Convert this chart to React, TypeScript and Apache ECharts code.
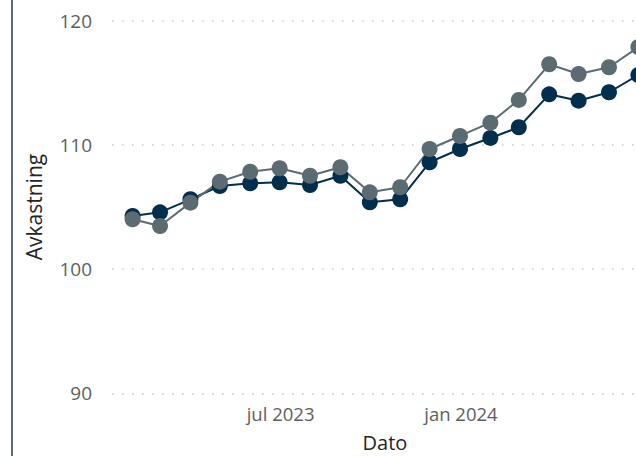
import React, { useEffect, useRef } from "react";
import * as echarts from "echarts";

const dates: string[] = [
  "2023-01-31", "2023-02-28", "2023-03-31", "2023-04-30", "2023-05-31", "2023-06-30",
  "2023-07-31", "2023-08-31", "2023-09-30", "2023-10-31", "2023-11-30", "2023-12-31",
  "2024-01-31", "2024-02-29", "2024-03-31", "2024-04-30", "2024-05-31", "2024-06-30",
];
const seriesA: number[] = [
  104.28, 104.57, 105.62, 106.69, 106.91, 106.99, 106.77, 107.52, 105.38, 105.62,
  108.6, 109.67, 110.56, 111.42, 114.07, 113.56, 114.24, 115.63,
];
const seriesB: number[] = [
  104.01, 103.47, 105.35, 107.04, 107.84, 108.12, 107.52, 108.2, 106.18, 106.59,
  109.67, 110.72, 111.79, 113.62, 116.49, 115.71, 116.25, 117.88,
];
const xTickLabels: { date: string; label: string }[] = [
  { date: "2023-07-01", label: "jul 2023" },
  { date: "2024-01-01", label: "jan 2024" },
];
const yTicks = { min: 90, max: 120, interval: 10 };
const xRange = { min: "2023-01-10", max: "2024-07-20" };

function toTime(s: string): number {
  const [y, m, d] = s.split("-").map(Number);
  return new Date(y, m - 1, d).getTime();
}

export default function App() {
  const ref = useRef<HTMLDivElement>(null);
  useEffect(() => {
    if (!ref.current) return;
    const chart = echarts.init(ref.current, undefined, { renderer: "svg" });
    const font = "'Open Sans', 'Noto Sans', sans-serif";
    const labelMap = new Map<number, string>(xTickLabels.map((t) => [toTime(t.date), t.label]));
    chart.setOption({
      animation: false,
      backgroundColor: "#ffffff",
      textStyle: { fontFamily: font },
      graphic: [
        {
          type: "line",
          shape: { x1: 12, y1: 0, x2: 12, y2: 470 },
          style: { stroke: "#5c6b76", lineWidth: 2 },
        },
      ],
      grid: {
        left: 112,
        right: 22,
        top: 20.7,
        bottom: 62.7,
        containLabel: false,
        outerBoundsMode: "none",
      },
      xAxis: {
        type: "time",
        min: toTime(xRange.min),
        max: toTime(xRange.max),
        name: "Dato",
        nameLocation: "middle",
        nameGap: 41,
        nameTextStyle: { fontSize: 20, lineHeight: 16, color: "#252423", fontFamily: font },
        axisLine: { show: false },
        axisTick: { show: false },
        splitLine: { show: false },
        axisLabel: {
          fontSize: 18.5,
          color: "#605e5c",
          margin: 11,
          hideOverlap: false,
          formatter: (v: number) => labelMap.get(v) ?? "",
        },
      },
      yAxis: {
        type: "value",
        min: yTicks.min,
        max: yTicks.max,
        interval: yTicks.interval,
        name: "Avkastning",
        nameLocation: "middle",
        nameGap: 68,
        nameRotate: 90,
        nameTextStyle: { fontSize: 21, color: "#252423", fontFamily: font },
        axisLine: { show: false },
        axisTick: { show: false },
        axisLabel: { fontSize: 19, color: "#605e5c", margin: 20 },
        splitLine: {
          show: true,
          lineStyle: { color: "#c8c6c4", width: 1.5, type: [1.5, 8.5] },
        },
      },
      series: [
        {
          type: "line",
          data: dates.map((d, i) => [toTime(d), seriesA[i]]),
          symbol: "circle",
          symbolSize: 16,
          showAllSymbol: true,
          color: "#012f4d",
          lineStyle: { width: 2, color: "#012f4d" },
          itemStyle: { color: "#012f4d" },
        },
        {
          type: "line",
          data: dates.map((d, i) => [toTime(d), seriesB[i]]),
          symbol: "circle",
          symbolSize: 16,
          showAllSymbol: true,
          color: "#5a6b72",
          lineStyle: { width: 2, color: "#5a6b72" },
          itemStyle: { color: "#5a6b72" },
        },
      ],
    });
    return () => chart.dispose();
  }, []);
  return (
    <div style={{ position: "fixed", left: 0, top: 0, width: 636, height: 456, overflow: "hidden" }}>
      <div ref={ref} style={{ width: 680, height: 456 }} />
    </div>
  );
}
